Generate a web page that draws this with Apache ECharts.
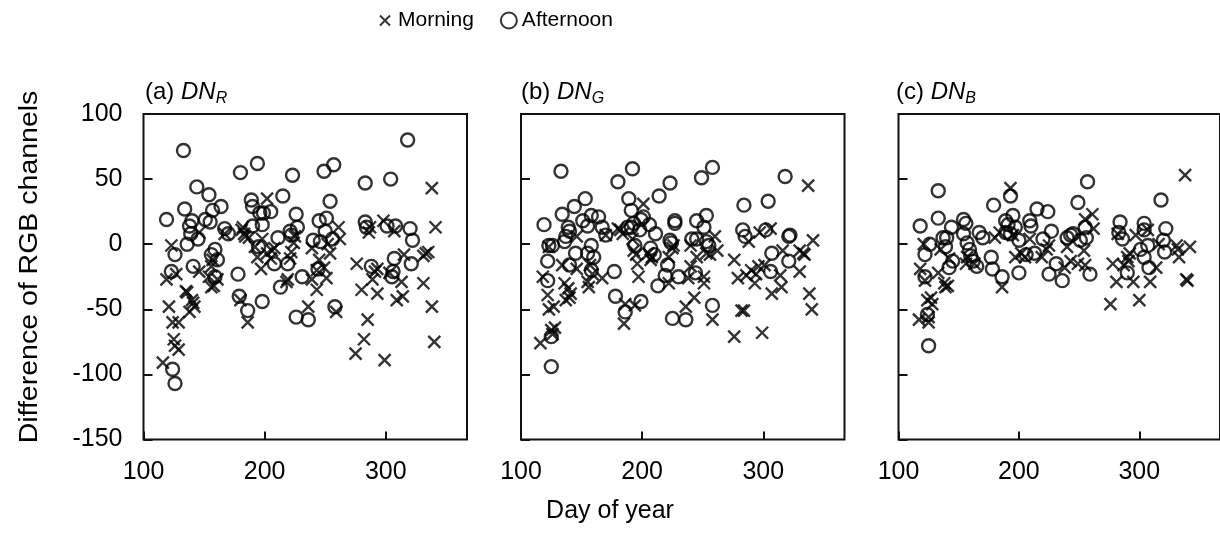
<!DOCTYPE html>
<html><head><meta charset="utf-8">
<script src="https://cdn.jsdelivr.net/npm/echarts@6/dist/echarts.min.js"></script>
<style>html,body{margin:0;padding:0;background:#fff}#c{width:1220px;height:549px}</style>
</head><body><div id="c"></div><script>
// ---- data: [day of year, difference] ----
const redMorning = [[116,-91],[119,-27],[123,-1],[121,-48],[124,-60],[129,-60],[125,-73],[126,-78],[129,-81],[127,-23],[135,-36],[136,-37],[138,-52],[140,-43],[141,-45],[142,-48],[146,-21],[146,9],[154,-25],[156,-17],[157,-12],[156,-33],[158,-32],[161,-27],[167,8],[181,11],[182,13],[183,8],[184,6],[186,-60],[180,-43],[187,5],[192,-2],[194,-10],[197,-19],[202,35],[198,4],[202,-7],[205,-11],[206,-5],[208,-3],[218,-29],[219,-27],[221,-11],[222,-6],[224,1],[225,6],[236,-48],[239,-3],[239,-27],[243,-35],[243,-20],[245,-12],[249,-18],[251,-26],[252,0],[254,-7],[259,-52],[261,13],[262,4],[275,-84],[276,-15],[280,-35],[282,-73],[285,-58],[286,9],[287,13],[289,-27],[291,-21],[293,-19],[293,-38],[298,18],[299,-89],[303,-22],[307,10],[309,-43],[313,-29],[314,-40],[315,-8],[331,-30],[331,-9],[333,-7],[335,-6],[338,-48],[338,43],[341,13],[340,-75]];
const redAfternoon = [[119,19],[133,72],[134,27],[123,-21],[126,-8],[124,-96],[126,-107],[136,0],[138,14],[140,18],[139,8],[145,4],[144,44],[141,-17],[151,19],[154,38],[157,26],[164,29],[155,17],[159,-4],[156,-8],[161,-12],[159,-25],[167,12],[170,8],[178,-23],[180,55],[194,62],[179,-40],[186,-51],[198,-44],[189,34],[190,29],[190,14],[198,15],[196,24],[199,24],[205,25],[195,-2],[211,5],[208,-15],[215,37],[213,-33],[223,53],[221,10],[222,7],[226,23],[227,13],[219,-15],[226,-56],[231,-25],[236,-58],[240,3],[245,18],[246,2],[249,56],[251,20],[250,10],[254,33],[257,61],[256,4],[258,-48],[244,-19],[283,47],[283,17],[284,13],[288,-17],[304,50],[301,14],[308,14],[306,-21],[305,-25],[307,-11],[318,80],[320,12],[322,3],[321,-15]];
const greenMorning = [[116,-76],[118,-25],[123,-2],[122,-39],[123,-50],[127,-48],[125,-66],[128,-64],[126,-69],[134,-16],[136,-30],[139,-34],[141,-38],[140,-41],[137,-43],[146,6],[146,-19],[155,-29],[156,-33],[157,-16],[159,-23],[167,-26],[170,7],[180,12],[182,11],[184,8],[186,-46],[185,-61],[194,-47],[201,31],[192,4],[193,-5],[196,-15],[197,-25],[195,-8],[205,-7],[207,-12],[208,-10],[222,-30],[222,-10],[225,-3],[226,-1],[236,-48],[238,-26],[240,-1],[240,-17],[243,-41],[245,-10],[251,-25],[251,-30],[253,-7],[256,-8],[258,-58],[260,6],[262,-5],[276,-12],[276,-71],[279,-26],[282,-51],[284,-51],[288,2],[286,-24],[290,-20],[293,-30],[294,-23],[296,-17],[299,-68],[297,9],[301,-16],[306,12],[307,-38],[314,-24],[315,-33],[316,-5],[330,-21],[330,-5],[333,-7],[334,-8],[337,45],[338,-38],[340,-50],[341,3]];
const greenAfternoon = [[119,15],[133,56],[123,-1],[126,-1],[122,-13],[122,-28],[125,-71],[125,-94],[134,23],[139,13],[136,2],[137,6],[144,29],[140,10],[145,-7],[140,-16],[153,35],[151,18],[155,14],[158,22],[155,-7],[158,-1],[160,-10],[158,-20],[164,21],[167,13],[170,7],[177,-21],[180,48],[178,-40],[186,-52],[199,-44],[189,35],[191,26],[192,58],[188,13],[191,13],[193,16],[199,19],[201,21],[206,15],[198,11],[194,-1],[207,-3],[210,-8],[211,8],[214,37],[223,47],[227,18],[227,16],[223,3],[224,1],[221,-16],[219,-24],[213,-32],[230,-25],[225,-57],[236,-58],[241,4],[245,4],[245,18],[251,13],[253,22],[249,51],[258,59],[255,-1],[253,2],[244,-22],[258,-47],[284,30],[283,11],[285,6],[304,33],[302,11],[307,-7],[306,-21],[321,-13],[318,52],[322,7],[321,6]];
const blueMorning = [[117,-58],[118,-19],[122,-28],[121,0],[124,-43],[127,-41],[125,-60],[125,-56],[128,-46],[135,-4],[133,-22],[138,-30],[139,-33],[141,-32],[142,-11],[156,-15],[157,-10],[163,-15],[180,5],[184,9],[186,-33],[193,43],[195,7],[197,-10],[202,-7],[205,-10],[209,4],[219,-10],[223,-4],[225,-1],[238,-18],[240,-2],[243,-13],[249,-15],[254,-5],[255,-16],[255,19],[261,23],[262,12],[276,-46],[278,-15],[281,-29],[282,8],[287,-16],[290,-10],[291,-13],[292,-7],[295,-29],[297,7],[300,-43],[307,11],[309,-29],[314,-18],[316,0],[331,-1],[332,-4],[333,-10],[338,53],[339,-27],[340,-28],[342,-2]];
const blueAfternoon = [[118,14],[133,41],[133,20],[126,0],[122,-8],[122,-25],[124,-54],[125,-78],[137,5],[139,-2],[140,5],[144,13],[142,-18],[145,-13],[154,19],[156,16],[154,8],[157,1],[159,-4],[160,-9],[162,-13],[167,9],[170,5],[165,-17],[177,-10],[179,30],[178,-19],[186,-25],[200,-22],[193,37],[189,18],[191,15],[195,22],[189,9],[193,8],[197,13],[200,3],[210,14],[209,18],[215,27],[224,25],[206,-8],[213,-7],[220,4],[227,10],[225,-23],[231,-15],[236,-28],[240,5],[243,7],[245,8],[249,32],[251,3],[255,13],[256,5],[257,48],[259,-23],[284,17],[283,9],[286,4],[290,-22],[304,16],[304,11],[301,-4],[307,-1],[304,-10],[308,-18],[318,34],[322,12],[320,3],[321,-6]];

const xTicks = [100, 200, 300];
const yTicks = [-150, -100, -50, 0, 50, 100];
const panelTitles = [['(a) ', 'DN', 'R'], ['(b) ', 'DN', 'G'], ['(c) ', 'DN', 'B']];
const panelData = [[redMorning, redAfternoon], [greenMorning, greenAfternoon], [blueMorning, blueAfternoon]];

const FONT = 'Liberation Sans, Arial, Helvetica, sans-serif';
const INK = '#000';
const CROSS = 'path://M0,0L10,10M10,0L0,10';
const CROSS_LEGEND = 'path://M-3,-3M13,13M0,0L10,10M10,0L0,10';
const gridLefts = [143.5, 521, 898.5];
const titleLefts = [140, 516, 891];

const grids = [], xAxes = [], yAxes = [], series = [], titles = [];
gridLefts.forEach((l, i) => {
  grids.push({left: l, top: 114, width: 323.5, height: 325.5, show: true,
    borderColor: '#111', borderWidth: 2, containLabel: false});
  xAxes.push({type: 'value', gridIndex: i, min: 100, max: 367, interval: 100,
    axisLine: {show: false, onZero: false}, splitLine: {show: false},
    axisTick: {show: true, inside: true, length: 8, lineStyle: {color: '#111', width: 2}},
    axisLabel: {show: true, margin: 20, fontSize: 25, color: '#000', fontFamily: FONT,
      showMaxLabel: false, formatter: v => (xTicks.indexOf(v) >= 0 ? String(v) : '')}});
  yAxes.push({type: 'value', gridIndex: i, min: -150, max: 100, interval: 50,
    axisLine: {show: false, onZero: false}, splitLine: {show: false},
    axisTick: {show: true, inside: true, length: 9, lineStyle: {color: '#111', width: 2}},
    axisLabel: {show: i === 0, margin: 21, fontSize: 25, color: '#000', fontFamily: FONT,
      formatter: v => (yTicks.indexOf(v) >= 0 ? String(v) : '')}});
  series.push({name: 'Morning', type: 'scatter', xAxisIndex: i, yAxisIndex: i,
    data: panelData[i][0], symbol: CROSS, symbolSize: 12, silent: true,
    itemStyle: {color: 'transparent', borderColor: INK, borderWidth: 2.4}});
  series.push({name: 'Afternoon', type: 'scatter', xAxisIndex: i, yAxisIndex: i,
    data: panelData[i][1], symbol: 'circle', symbolSize: 13, silent: true,
    itemStyle: {color: 'transparent', borderColor: INK, borderWidth: 2.4}});
  const t = panelTitles[i];
  titles.push({text: t[0] + '{i|' + t[1] + '}{s|' + t[2] + '}', left: titleLefts[i], top: 72,
    textStyle: {fontSize: 24, fontWeight: 'normal', color: '#000', fontFamily: FONT, lineHeight: 30,
      rich: {i: {fontSize: 24, fontStyle: 'italic', fontFamily: FONT, color: '#000', lineHeight: 30},
             s: {fontSize: 16, fontStyle: 'italic', fontFamily: FONT, color: '#000', verticalAlign: 'bottom', lineHeight: 10}}}});
});

const chart = echarts.init(document.getElementById('c'));
chart.setOption({
  animation: false,
  backgroundColor: '#fff',
  title: titles,
  legend: {left: 371, top: 5, itemGap: 26, itemWidth: 16, itemHeight: 16, selectedMode: false,
    textStyle: {fontSize: 21, color: '#000', fontFamily: FONT},
    data: [
      {name: 'Morning', icon: CROSS_LEGEND, itemStyle: {color: 'transparent', borderColor: INK, borderWidth: 2}},
      {name: 'Afternoon', icon: 'circle', itemStyle: {color: 'transparent', borderColor: INK, borderWidth: 2}}
    ]},
  grid: grids, xAxis: xAxes, yAxis: yAxes, series: series,
  graphic: [
    {type: 'text', x: 30, y: 267, rotation: Math.PI / 2, scaleX: 1.14,
     style: {text: 'Difference of RGB channels', fontSize: 25, fontFamily: FONT, fill: '#000',
       textAlign: 'center', textVerticalAlign: 'middle', align: 'center', verticalAlign: 'middle'}},
    {type: 'text', x: 610, y: 511,
     style: {text: 'Day of year', fontSize: 25, fontFamily: FONT, fill: '#000',
       textAlign: 'center', textVerticalAlign: 'middle', align: 'center', verticalAlign: 'middle'}}
  ]
});
</script></body></html>
